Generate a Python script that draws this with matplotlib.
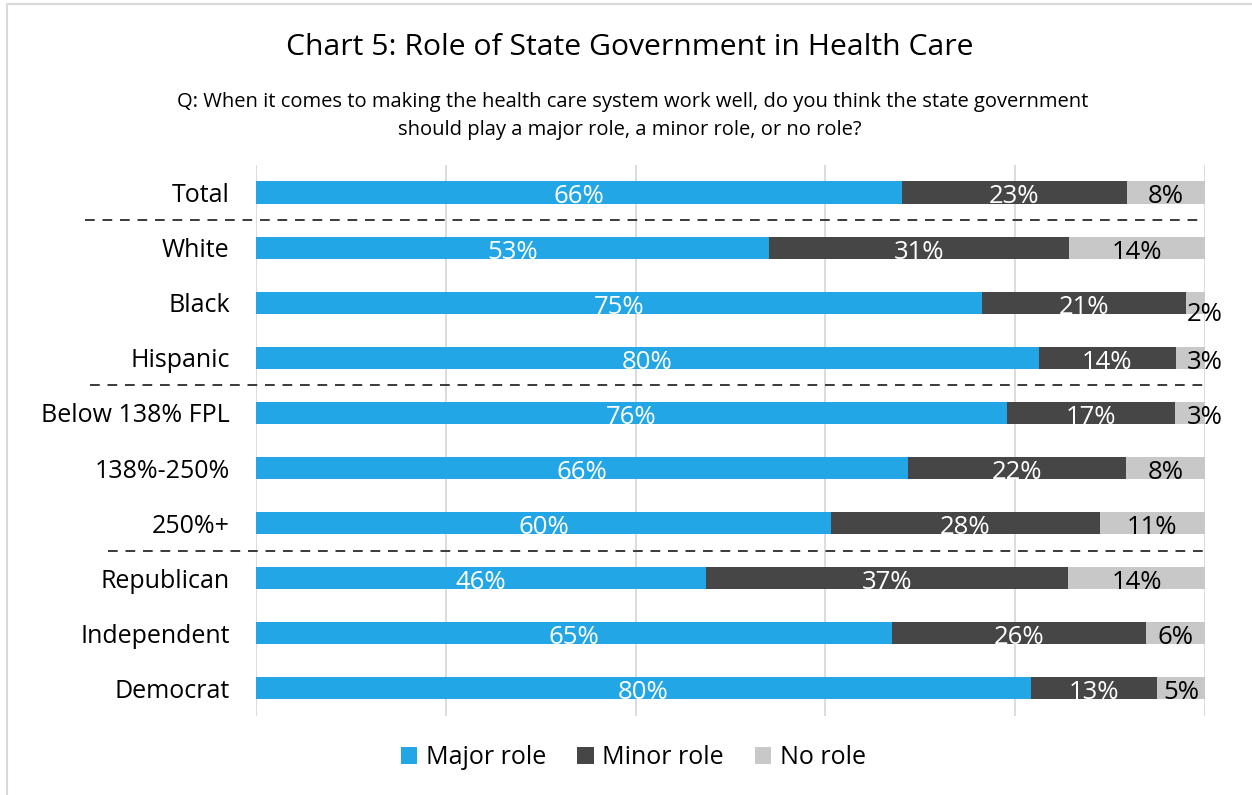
import numpy as np
import matplotlib.pyplot as plt
from matplotlib import patches

plt.rcParams['font.family'] = ['Open Sans', 'DejaVu Sans']

# survey answers, percent of each group
groups = ['Total', 'White', 'Black', 'Hispanic', 'Below 138% FPL',
          '138%-250%', '250%+', 'Republican', 'Independent', 'Democrat']
major = [66, 53, 75, 80, 76, 66, 60, 46, 65, 80]
minor = [23, 31, 21, 14, 17, 22, 28, 37, 26, 13]
none_ = [8, 14, 2, 3, 3, 8, 11, 14, 6, 5]
series_names = ['Major role', 'Minor role', 'No role']
colors = ['#22A6E6', '#464646', '#C8C8C8']
text_colors = ['white', 'white', 'black']

# rows where a dashed rule separates the groupings, with their x extents
separators = [(0.5, -0.180, 1.0), (3.5, -0.175, 1.005), (6.5, -0.156, 1.0)]

fig = plt.figure(figsize=(12.52, 7.95), dpi=100)
ax = fig.add_axes([0.2045, 0.0994, 0.758, 0.6931])

data = np.array([major, minor, none_], dtype=float)
shares = data / data.sum(axis=0)
y = np.arange(len(groups))

left = np.zeros(len(groups))
for k in range(3):
    ax.barh(y, shares[k], left=left, height=0.4, color=colors[k],
            label=series_names[k], zorder=3)
    for i in range(len(groups)):
        v = data[k, i]
        cx = left[i] + shares[k, i] / 2
        cy = i + 0.08
        color = text_colors[k]
        if k == 2 and v < 4:
            # too narrow to hold its label, let it spill over the end
            cx = 1.0
            color = 'black'
            if v < 3:
                cy += 0.14
        ax.text(cx, cy, f'{int(v)}%', ha='center', va='center',
                fontsize=18.5, color=color, zorder=4)
    left += shares[k]

ax.set_xlim(0, 1)
ax.set_ylim(len(groups) - 0.5, -0.5)
ax.set_xticks(np.arange(0, 1.01, 0.2))
ax.xaxis.grid(True, color='#D9D9D9', linewidth=1.3, zorder=0)
ax.tick_params(axis='x', length=0, labelbottom=False)
ax.tick_params(axis='y', length=0, pad=19, labelsize=18)
ax.set_yticks(y)
ax.set_yticklabels(groups)
for s in ax.spines.values():
    s.set_visible(False)

for ypos, x0, x1 in separators:
    ax.plot([x0, x1], [ypos, ypos], color='#3A3A3A', linewidth=1.4,
            dashes=(5, 4), clip_on=False, zorder=2)

fig.text(0.503, 0.94, 'Chart 5: Role of State Government in Health Care',
         ha='center', va='center', fontsize=21.7)
fig.text(0.505, 0.872, 'Q: When it comes to making the health care system work well, '
         'do you think the state government', ha='center', va='center', fontsize=14.5)
fig.text(0.503, 0.837, 'should play a major role, a minor role, or no role?',
         ha='center', va='center', fontsize=14.5)

fig.legend(loc='center', bbox_to_anchor=(0.506, 0.047), ncol=3, frameon=False,
           fontsize=18, handlelength=0.65, handleheight=0.65,
           handletextpad=0.35, columnspacing=1.25)

# light frame around the chart area
fig.patches.append(patches.Rectangle((7 / 1252, -0.1), 1.2, 1.1 - 4 / 795,
                                     transform=fig.transFigure, fill=False,
                                     edgecolor='#D9D9D9', linewidth=1.5))

fig.savefig('out.png', dpi=100, facecolor='white')
